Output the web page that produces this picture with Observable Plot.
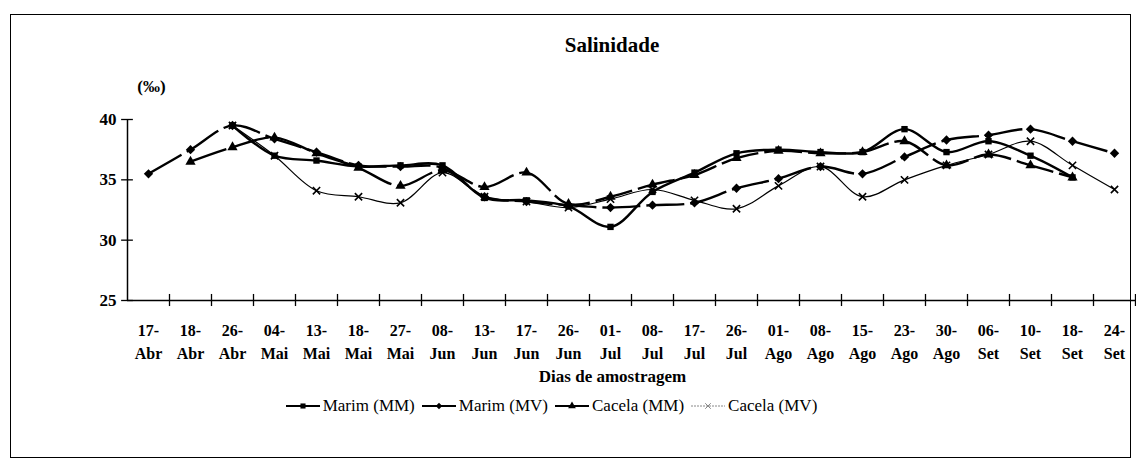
<!DOCTYPE html>
<html><head><meta charset="utf-8">
<script src="https://cdn.jsdelivr.net/npm/d3@7"></script>
<script src="https://cdn.jsdelivr.net/npm/@observablehq/plot@0.6"></script>
<style>
body{margin:0;background:#fff;font-family:"Liberation Serif","DejaVu Serif",serif;}
#wrap{position:relative;width:1136px;height:470px;overflow:hidden;background:#fff;}
#frame{position:absolute;left:10px;top:14px;width:1121px;height:444px;border:1.5px solid #000;box-sizing:border-box;}
#title{position:absolute;top:33px;left:0;width:1224px;text-align:center;font-weight:bold;font-size:21px;line-height:24px;}
#chart{position:absolute;left:0;top:60px;}
#legend{position:absolute;top:396px;left:0;width:1110px;display:flex;justify-content:center;align-items:center;font-size:17px;color:#000;}
#legend .item{display:flex;align-items:center;margin-right:7px;}
#legend svg{margin-right:3px;}
</style></head>
<body>
<div id="wrap">
  <div id="frame"></div>
  <div id="title">Salinidade</div>
  <div id="chart"></div>
  <div id="legend"></div>
</div>
<script>
// ---- data ----
const days   = ["17","18","26","04","13","18","27","08","13","17","26","01","08","17","26","01","08","15","23","30","06","10","18","24"];
const months = ["Abr","Abr","Abr","Mai","Mai","Mai","Mai","Jun","Jun","Jun","Jun","Jul","Jul","Jul","Jul","Ago","Ago","Ago","Ago","Ago","Set","Set","Set","Set"];
const seriesNames = ["Marim (MM)", "Marim (MV)", "Cacela (MM)", "Cacela (MV)"];
const marimMM  = [null,null,39.5,37.0,36.6,36.1,36.2,36.2,33.5,33.3,32.8,31.1,34.0,35.6,37.2,37.5,37.3,37.3,39.2,37.3,38.2,37.0,35.2,null];
const marimMV  = [35.5,37.5,39.5,38.4,37.3,36.2,36.1,36.0,33.6,33.2,32.9,32.7,32.9,33.1,34.3,35.1,36.1,35.5,36.9,38.3,38.7,39.2,38.2,37.2];
const cacelaMM = [null,36.5,37.7,38.5,37.2,36.0,34.5,35.8,34.4,35.6,33.0,33.6,34.6,35.4,36.8,37.4,37.2,37.3,38.2,36.2,37.1,36.2,35.2,null];
const cacelaMV = [null,null,39.5,37.0,34.1,33.6,33.1,35.6,33.6,33.2,32.7,33.4,34.2,33.3,32.6,34.5,36.1,33.6,35.0,36.2,37.1,38.2,36.2,34.2];
const yTicks = [25, 30, 35, 40];
const yUnit = "(‰)";
const xTitle = "Dias de amostragem";

const FONT = "Liberation Serif, DejaVu Serif, serif";

// ---- styles ----
const styles = {
  "Marim (MM)":  {symbol: "square",   sw: 2.4, dash: null,   r: 3.6, strokeSym: false, legendStroke: "#000", legendDash: null},
  "Marim (MV)":  {symbol: "diamond2", sw: 2.4, dash: "38,6", r: 4.2, strokeSym: false, legendStroke: "#000", legendDash: null},
  "Cacela (MM)": {symbol: "triangle", sw: 2.4, dash: "38,6", r: 3.8, strokeSym: false, legendStroke: "#000", legendDash: null},
  "Cacela (MV)": {symbol: "times",    sw: 1.2, dash: null,   r: 3.4, strokeSym: true,  legendStroke: "#888", legendDash: "2,1"}
};

const valuesBySeries = [marimMM, marimMV, cacelaMM, cacelaMV];
const rows = [];
seriesNames.forEach((s, k) => valuesBySeries[k].forEach((v, i) => { if (v != null) rows.push({series: s, i, v}); }));
const idx = d3.range(days.length);
const bounds = d3.range(1, days.length + 1).map(i => i - 0.5);

const marks = [
  Plot.ruleY([25], {x1: -0.5, x2: days.length - 0.5, stroke: "#000", strokeWidth: 1.5}),
  Plot.ruleX([-0.5], {y1: 25, y2: 40, stroke: "#000", strokeWidth: 1.5}),
  Plot.ruleY(yTicks, {x1: -0.5 - 0.14, x2: -0.5 + 0.14, stroke: "#000", strokeWidth: 1.3}),
  Plot.ruleX(bounds, {y1: 24.5, y2: 25.5, stroke: "#000", strokeWidth: 1.3}),
  Plot.text(yTicks, {x: -0.5, y: d => d, text: d => String(d), dx: -11, textAnchor: "end", fontSize: 17, fontWeight: "bold", fontFamily: FONT}),
  Plot.text(idx, {x: d => d, y: 25, text: d => days[d] + "-\n" + months[d], lineAnchor: "top", dy: 19, lineHeight: 1.45, fontSize: 16, fontWeight: "bold", fontFamily: FONT}),
  Plot.text([yUnit], {x: -0.5, y: 40, text: d => d, dx: 24, dy: -33, fontSize: 17, fontWeight: "bold", fontFamily: FONT}),
  Plot.text([xTitle], {frameAnchor: "bottom", text: d => d, dx: -19, dy: 81, fontSize: 17, fontWeight: "bold", fontFamily: FONT})
];

seriesNames.forEach(s => {
  const st = styles[s];
  const data = rows.filter(d => d.series === s);
  marks.push(Plot.line(data, {x: "i", y: "v", curve: "catmull-rom", stroke: "#000", strokeWidth: st.sw, strokeDasharray: st.dash, strokeLinecap: "butt"}));
});
seriesNames.forEach(s => {
  const st = styles[s];
  const data = rows.filter(d => d.series === s);
  if (st.strokeSym) marks.push(Plot.dot(data, {x: "i", y: "v", symbol: st.symbol, r: st.r, stroke: "#000", strokeWidth: 1.6, fill: "none"}));
  else marks.push(Plot.dot(data, {x: "i", y: "v", symbol: st.symbol, r: st.r, fill: "#000", stroke: "none"}));
});

const chart = Plot.plot({
  width: 1136,
  height: 340,
  marginLeft: 127,
  marginRight: 1,
  marginTop: 59,
  marginBottom: 100,
  x: {type: "linear", domain: [-0.5, days.length - 0.5], axis: null},
  y: {type: "linear", domain: [25, 40], axis: null},
  style: {background: "transparent", overflow: "visible", fontFamily: FONT},
  marks
});
document.getElementById("chart").appendChild(chart);

// ---- legend ----
const legend = document.getElementById("legend");
const symMap = {square: d3.symbolSquare, diamond2: d3.symbolDiamond2, triangle: d3.symbolTriangle, times: d3.symbolTimes};
seriesNames.forEach(s => {
  const st = styles[s];
  const item = document.createElement("div");
  item.className = "item";
  const svg = d3.create("svg").attr("width", 34).attr("height", 14);
  svg.append("line").attr("x1", 0).attr("x2", 34).attr("y1", 7).attr("y2", 7)
    .attr("stroke", st.legendStroke).attr("stroke-width", st.strokeSym ? 1 : 2.2)
    .attr("stroke-dasharray", st.legendDash);
  const path = svg.append("path").attr("transform", "translate(17,7)")
    .attr("d", d3.symbol(symMap[st.symbol], st.strokeSym ? 22 : 26)());
  if (st.strokeSym) path.attr("fill", "none").attr("stroke", "#888").attr("stroke-width", 1);
  else path.attr("fill", "#000");
  item.appendChild(svg.node());
  const t = document.createElement("span");
  t.textContent = s;
  item.appendChild(t);
  legend.appendChild(item);
});
</script>
</body></html>
